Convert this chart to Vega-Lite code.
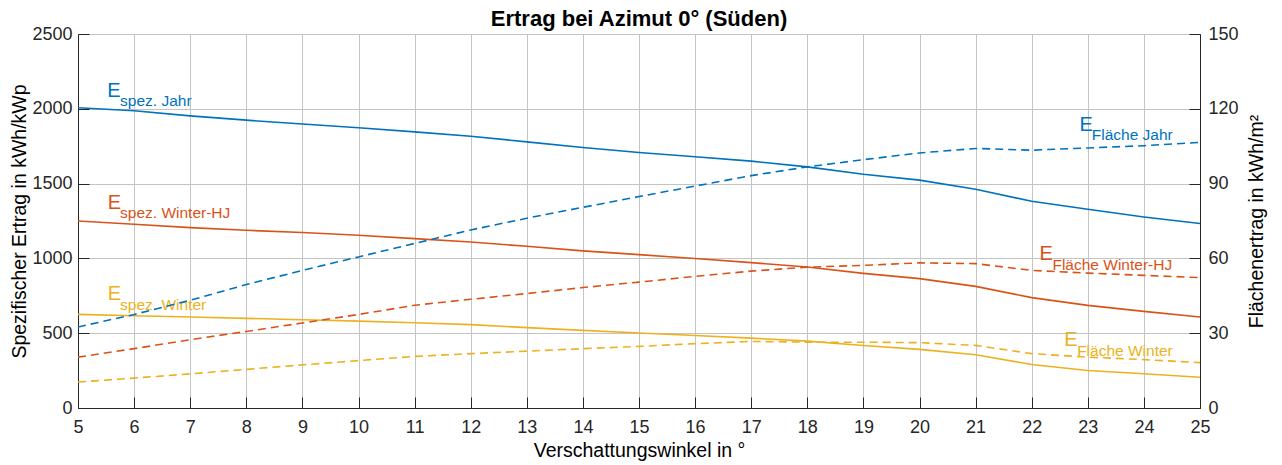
{
  "$schema": "https://vega.github.io/schema/vega-lite/v6.json",
  "width": 1122,
  "height": 374,
  "autosize": {"type": "none"},
  "padding": {"left": 78, "top": 34, "right": 82, "bottom": 57},
  "background": "white",
  "config": {
    "font": "Liberation Sans",
    "view": {"stroke": "#a8a8a8", "strokeWidth": 1},
    "axis": {
      "domainColor": "#262626",
      "tickColor": "#262626",
      "labelColor": "#262626",
      "titleColor": "#000000",
      "labelFontSize": 18,
      "titleFontSize": 19.5,
      "titleFontWeight": "normal",
      "gridColor": "#c4c4c4",
      "gridOpacity": 1,
      "tickSize": -11,
      "domainWidth": 1,
      "tickWidth": 1
    }
  },
  "title": {
    "text": "Ertrag bei Azimut 0° (Süden)",
    "fontSize": 22,
    "fontWeight": "bold",
    "color": "#000000",
    "anchor": "middle",
    "offset": -6
  },
  "datasets": {
    "spez": [
      {"w": 5, "s": "spez. Jahr", "v": 2007}, {"w": 6, "s": "spez. Jahr", "v": 1987}, {"w": 7, "s": "spez. Jahr", "v": 1953}, {"w": 8, "s": "spez. Jahr", "v": 1924}, {"w": 9, "s": "spez. Jahr", "v": 1898}, {"w": 10, "s": "spez. Jahr", "v": 1873}, {"w": 11, "s": "spez. Jahr", "v": 1846}, {"w": 12, "s": "spez. Jahr", "v": 1817}, {"w": 13, "s": "spez. Jahr", "v": 1779}, {"w": 14, "s": "spez. Jahr", "v": 1741}, {"w": 15, "s": "spez. Jahr", "v": 1708}, {"w": 16, "s": "spez. Jahr", "v": 1679}, {"w": 17, "s": "spez. Jahr", "v": 1650}, {"w": 18, "s": "spez. Jahr", "v": 1612}, {"w": 19, "s": "spez. Jahr", "v": 1562}, {"w": 20, "s": "spez. Jahr", "v": 1523}, {"w": 21, "s": "spez. Jahr", "v": 1462}, {"w": 22, "s": "spez. Jahr", "v": 1382}, {"w": 23, "s": "spez. Jahr", "v": 1328}, {"w": 24, "s": "spez. Jahr", "v": 1277}, {"w": 25, "s": "spez. Jahr", "v": 1233},
      {"w": 5, "s": "spez. Winter-HJ", "v": 1250}, {"w": 6, "s": "spez. Winter-HJ", "v": 1228}, {"w": 7, "s": "spez. Winter-HJ", "v": 1206}, {"w": 8, "s": "spez. Winter-HJ", "v": 1188}, {"w": 9, "s": "spez. Winter-HJ", "v": 1173}, {"w": 10, "s": "spez. Winter-HJ", "v": 1155}, {"w": 11, "s": "spez. Winter-HJ", "v": 1132}, {"w": 12, "s": "spez. Winter-HJ", "v": 1110}, {"w": 13, "s": "spez. Winter-HJ", "v": 1081}, {"w": 14, "s": "spez. Winter-HJ", "v": 1050}, {"w": 15, "s": "spez. Winter-HJ", "v": 1025}, {"w": 16, "s": "spez. Winter-HJ", "v": 999}, {"w": 17, "s": "spez. Winter-HJ", "v": 972}, {"w": 18, "s": "spez. Winter-HJ", "v": 942}, {"w": 19, "s": "spez. Winter-HJ", "v": 900}, {"w": 20, "s": "spez. Winter-HJ", "v": 865}, {"w": 21, "s": "spez. Winter-HJ", "v": 813}, {"w": 22, "s": "spez. Winter-HJ", "v": 738}, {"w": 23, "s": "spez. Winter-HJ", "v": 686}, {"w": 24, "s": "spez. Winter-HJ", "v": 646}, {"w": 25, "s": "spez. Winter-HJ", "v": 608},
      {"w": 5, "s": "spez. Winter", "v": 626}, {"w": 6, "s": "spez. Winter", "v": 617}, {"w": 7, "s": "spez. Winter", "v": 608}, {"w": 8, "s": "spez. Winter", "v": 599}, {"w": 9, "s": "spez. Winter", "v": 590}, {"w": 10, "s": "spez. Winter", "v": 581}, {"w": 11, "s": "spez. Winter", "v": 570}, {"w": 12, "s": "spez. Winter", "v": 557}, {"w": 13, "s": "spez. Winter", "v": 537}, {"w": 14, "s": "spez. Winter", "v": 519}, {"w": 15, "s": "spez. Winter", "v": 501}, {"w": 16, "s": "spez. Winter", "v": 485}, {"w": 17, "s": "spez. Winter", "v": 467}, {"w": 18, "s": "spez. Winter", "v": 447}, {"w": 19, "s": "spez. Winter", "v": 418}, {"w": 20, "s": "spez. Winter", "v": 392}, {"w": 21, "s": "spez. Winter", "v": 356}, {"w": 22, "s": "spez. Winter", "v": 291}, {"w": 23, "s": "spez. Winter", "v": 251}, {"w": 24, "s": "spez. Winter", "v": 229}, {"w": 25, "s": "spez. Winter", "v": 206}
    ],
    "flaeche": [
      {"w": 5, "s": "Fläche Jahr", "v": 32.5}, {"w": 6, "s": "Fläche Jahr", "v": 37.5}, {"w": 7, "s": "Fläche Jahr", "v": 43.2}, {"w": 8, "s": "Fläche Jahr", "v": 49.5}, {"w": 9, "s": "Fläche Jahr", "v": 55.2}, {"w": 10, "s": "Fläche Jahr", "v": 60.6}, {"w": 11, "s": "Fläche Jahr", "v": 66.0}, {"w": 12, "s": "Fläche Jahr", "v": 71.4}, {"w": 13, "s": "Fläche Jahr", "v": 76.1}, {"w": 14, "s": "Fläche Jahr", "v": 80.5}, {"w": 15, "s": "Fläche Jahr", "v": 84.8}, {"w": 16, "s": "Fläche Jahr", "v": 89.0}, {"w": 17, "s": "Fläche Jahr", "v": 93.2}, {"w": 18, "s": "Fläche Jahr", "v": 96.7}, {"w": 19, "s": "Fläche Jahr", "v": 99.6}, {"w": 20, "s": "Fläche Jahr", "v": 102.3}, {"w": 21, "s": "Fläche Jahr", "v": 104.1}, {"w": 22, "s": "Fläche Jahr", "v": 103.4}, {"w": 23, "s": "Fläche Jahr", "v": 104.3}, {"w": 24, "s": "Fläche Jahr", "v": 105.2}, {"w": 25, "s": "Fläche Jahr", "v": 106.5},
      {"w": 5, "s": "Fläche Winter-HJ", "v": 20.4}, {"w": 6, "s": "Fläche Winter-HJ", "v": 23.8}, {"w": 7, "s": "Fläche Winter-HJ", "v": 27.4}, {"w": 8, "s": "Fläche Winter-HJ", "v": 30.7}, {"w": 9, "s": "Fläche Winter-HJ", "v": 34.1}, {"w": 10, "s": "Fläche Winter-HJ", "v": 37.5}, {"w": 11, "s": "Fläche Winter-HJ", "v": 41.2}, {"w": 12, "s": "Fläche Winter-HJ", "v": 43.6}, {"w": 13, "s": "Fläche Winter-HJ", "v": 45.9}, {"w": 14, "s": "Fläche Winter-HJ", "v": 48.3}, {"w": 15, "s": "Fläche Winter-HJ", "v": 50.5}, {"w": 16, "s": "Fläche Winter-HJ", "v": 52.8}, {"w": 17, "s": "Fläche Winter-HJ", "v": 54.9}, {"w": 18, "s": "Fläche Winter-HJ", "v": 56.5}, {"w": 19, "s": "Fläche Winter-HJ", "v": 57.2}, {"w": 20, "s": "Fläche Winter-HJ", "v": 58.2}, {"w": 21, "s": "Fläche Winter-HJ", "v": 57.9}, {"w": 22, "s": "Fläche Winter-HJ", "v": 55.2}, {"w": 23, "s": "Fläche Winter-HJ", "v": 54.1}, {"w": 24, "s": "Fläche Winter-HJ", "v": 53.2}, {"w": 25, "s": "Fläche Winter-HJ", "v": 52.3},
      {"w": 5, "s": "Fläche Winter", "v": 10.4}, {"w": 6, "s": "Fläche Winter", "v": 12.0}, {"w": 7, "s": "Fläche Winter", "v": 13.7}, {"w": 8, "s": "Fläche Winter", "v": 15.5}, {"w": 9, "s": "Fläche Winter", "v": 17.3}, {"w": 10, "s": "Fläche Winter", "v": 19.0}, {"w": 11, "s": "Fläche Winter", "v": 20.7}, {"w": 12, "s": "Fläche Winter", "v": 21.8}, {"w": 13, "s": "Fläche Winter", "v": 22.8}, {"w": 14, "s": "Fläche Winter", "v": 23.8}, {"w": 15, "s": "Fläche Winter", "v": 24.7}, {"w": 16, "s": "Fläche Winter", "v": 25.8}, {"w": 17, "s": "Fläche Winter", "v": 26.7}, {"w": 18, "s": "Fläche Winter", "v": 26.4}, {"w": 19, "s": "Fläche Winter", "v": 26.4}, {"w": 20, "s": "Fläche Winter", "v": 26.2}, {"w": 21, "s": "Fläche Winter", "v": 25.1}, {"w": 22, "s": "Fläche Winter", "v": 21.8}, {"w": 23, "s": "Fläche Winter", "v": 20.4}, {"w": 24, "s": "Fläche Winter", "v": 19.4}, {"w": 25, "s": "Fläche Winter", "v": 18.2}
    ],
    "labels": [
      {"w": 5.52, "v": 2076, "s": "spez. Jahr", "t": "E", "part": "main"},
      {"w": 5.75, "v": 2018, "s": "spez. Jahr", "t": "spez. Jahr", "part": "sub"},
      {"w": 5.53, "v": 1333, "s": "spez. Winter-HJ", "t": "E", "part": "main"},
      {"w": 5.75, "v": 1273, "s": "spez. Winter-HJ", "t": "spez. Winter-HJ", "part": "sub"},
      {"w": 5.53, "v": 724, "s": "spez. Winter", "t": "E", "part": "main"},
      {"w": 5.75, "v": 657, "s": "spez. Winter", "t": "spez. Winter", "part": "sub"},
      {"w": 22.85, "v": 1853, "s": "Fläche Jahr", "t": "E", "part": "main"},
      {"w": 23.07, "v": 1790, "s": "Fläche Jahr", "t": "Fläche Jahr", "part": "sub"},
      {"w": 22.14, "v": 987, "s": "Fläche Winter-HJ", "t": "E", "part": "main"},
      {"w": 22.37, "v": 920, "s": "Fläche Winter-HJ", "t": "Fläche Winter-HJ", "part": "sub"},
      {"w": 22.58, "v": 412, "s": "Fläche Winter", "t": "E", "part": "main"},
      {"w": 22.81, "v": 345, "s": "Fläche Winter", "t": "Fläche Winter", "part": "sub"}
    ]
  },
  "encoding": {
    "x": {
      "field": "w",
      "type": "quantitative",
      "scale": {"domain": [5, 25], "nice": false, "zero": false},
      "axis": {
        "title": "Verschattungswinkel in °",
        "values": [5, 6, 7, 8, 9, 10, 11, 12, 13, 14, 15, 16, 17, 18, 19, 20, 21, 22, 23, 24, 25],
        "format": "d",
        "grid": true,
        "labelPadding": 21,
        "titlePadding": 5,
        "labelFlush": false
      }
    },
    "color": {
      "field": "s",
      "type": "nominal",
      "legend": null,
      "scale": {
        "domain": ["spez. Jahr", "spez. Winter-HJ", "spez. Winter", "Fläche Jahr", "Fläche Winter-HJ", "Fläche Winter"],
        "range": ["#0072BD", "#D95319", "#EDB120", "#0072BD", "#D95319", "#EDB120"]
      }
    }
  },
  "layer": [
    {
      "encoding": {
        "y": {
          "field": "v",
          "type": "quantitative",
          "scale": {"domain": [0, 2500], "nice": false},
          "axis": {
            "orient": "left",
            "title": "Spezifischer Ertrag in kWh/kWp",
            "values": [0, 500, 1000, 1500, 2000, 2500],
            "format": "d",
            "grid": true,
            "labelPadding": 17,
            "titlePadding": 2,
            "labelFlush": false
          }
        }
      },
      "layer": [
        {
          "data": {"name": "spez"},
          "mark": {"type": "line", "strokeWidth": 1.6, "clip": true}
        },
        {
          "data": {"name": "labels"},
          "transform": [{"filter": "datum.part == 'main'"}],
          "mark": {"type": "text", "align": "left", "baseline": "alphabetic", "fontSize": 20},
          "encoding": {"text": {"field": "t"}}
        },
        {
          "data": {"name": "labels"},
          "transform": [{"filter": "datum.part == 'sub'"}],
          "mark": {"type": "text", "align": "left", "baseline": "alphabetic", "fontSize": 15.5},
          "encoding": {"text": {"field": "t"}}
        }
      ]
    },
    {
      "data": {"name": "flaeche"},
      "mark": {"type": "line", "strokeWidth": 1.6, "strokeDash": [8, 5], "clip": true},
      "encoding": {
        "y": {
          "field": "v",
          "type": "quantitative",
          "scale": {"domain": [0, 150], "nice": false},
          "axis": {
            "orient": "right",
            "title": "Flächenertrag in kWh/m²",
            "values": [0, 30, 60, 90, 120, 150],
            "format": "d",
            "grid": false,
            "labelPadding": 19,
            "titlePadding": 9,
            "titleAngle": 270,
            "titleBaseline": "top",
            "labelFlush": false
          }
        }
      }
    }
  ],
  "resolve": {"scale": {"y": "independent"}}
}
